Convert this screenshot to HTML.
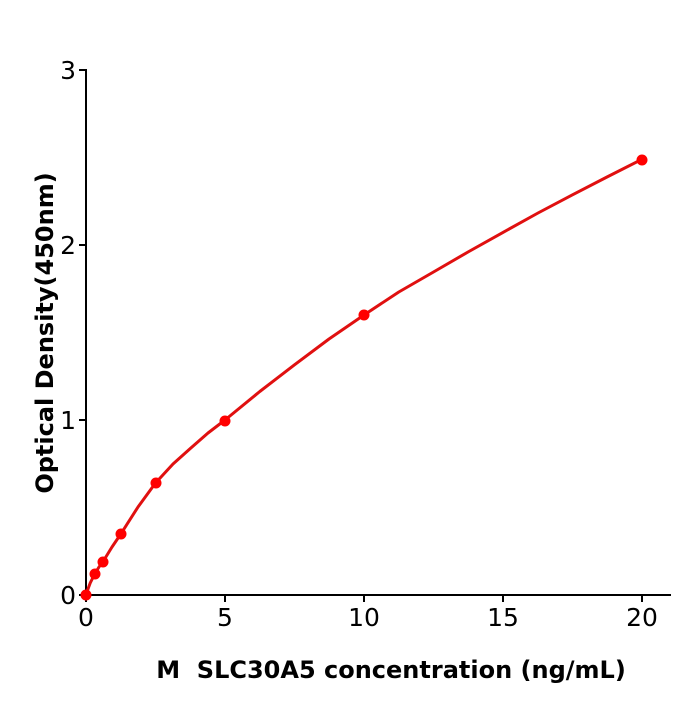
<!DOCTYPE html>
<html><head><style>body{margin:0;background:#fff}</style></head><body>
<svg width="700" height="700" xmlns="http://www.w3.org/2000/svg" font-family="'DejaVu Sans','Liberation Sans',sans-serif">
<rect width="700" height="700" fill="#fff"/>
<g stroke="#000" stroke-width="2" fill="none">
<line x1="86" y1="69" x2="86" y2="596"/>
<line x1="85" y1="595" x2="671" y2="595"/>
<line x1="86" y1="595" x2="86" y2="602"/>
<line x1="225" y1="595" x2="225" y2="602"/>
<line x1="364" y1="595" x2="364" y2="602"/>
<line x1="503" y1="595" x2="503" y2="602"/>
<line x1="642" y1="595" x2="642" y2="602"/>
<line x1="79" y1="595" x2="86" y2="595"/>
<line x1="79" y1="420" x2="86" y2="420"/>
<line x1="79" y1="245" x2="86" y2="245"/>
<line x1="79" y1="70" x2="86" y2="70"/>
</g>
<g font-size="25" fill="#000" text-anchor="middle">
<text x="86" y="626">0</text><text x="225" y="626">5</text><text x="364" y="626">10</text><text x="503" y="626">15</text><text x="642" y="626">20</text>
</g>
<g font-size="25" fill="#000" text-anchor="end">
<text x="76" y="604">0</text><text x="76" y="429">1</text><text x="76" y="254">2</text><text x="76" y="79">3</text>
</g>
<text x="391" y="678" font-size="24" font-weight="bold" text-anchor="middle" xml:space="preserve">M  SLC30A5 concentration (ng/mL)</text>
<text transform="translate(53,333) rotate(-90)" font-size="24" font-weight="bold" text-anchor="middle">Optical Density(450nm)</text>
<polyline fill="none" stroke="#e01010" stroke-width="3" stroke-linejoin="round" points="86,595 88,589 90.2,583 94.7,574 99,567 103.4,561 112,547 120.8,534 138,507 155.5,483 173,464 190.3,448.5 208,433 225,420 259.8,391.5 294.5,364.8 329,339 364,315 398.8,292 433.5,272 468,252 503,232.4 538,213 572.5,194.8 607,177 642,159.25"/>
<g fill="#f00">
<circle cx="86" cy="595" r="5.5"/><circle cx="95" cy="574" r="5.5"/><circle cx="103" cy="562" r="5.5"/><circle cx="121" cy="534" r="5.5"/><circle cx="156" cy="483" r="5.5"/><circle cx="225" cy="421" r="5.5"/><circle cx="364" cy="315" r="5.5"/><circle cx="642" cy="160" r="5.5"/>
</g>
</svg>
</body></html>
